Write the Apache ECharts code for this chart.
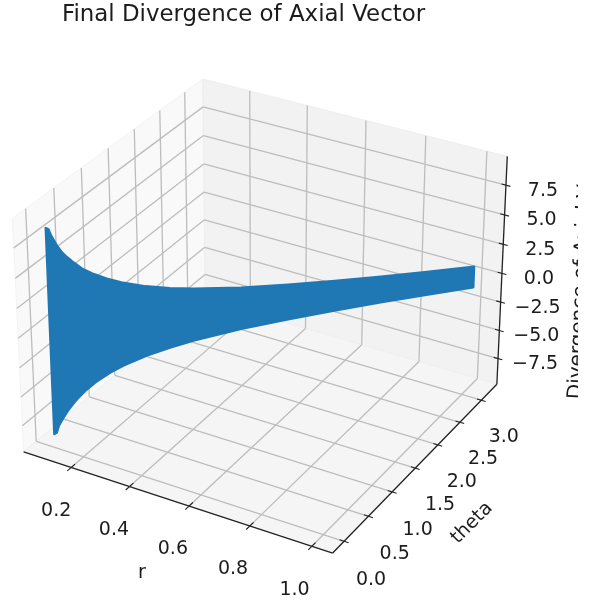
<!DOCTYPE html>
<html>
<head>
<meta charset="utf-8">
<style>html,body{margin:0;padding:0;background:#fff}#c{width:605px;height:601px;filter:blur(0.4px)}</style>
<script src="https://cdn.jsdelivr.net/npm/echarts@6/dist/echarts.min.js"></script>
</head>
<body>
<div id="c"></div>
<script>
// ---- data ----
const rValues     = [0.10,0.105,0.11,0.12,0.13,0.14,0.15,0.17,0.19,0.22,0.25,0.30,0.35,0.40,0.50,0.60,0.70,0.80,0.90,1.003];
const thetaValues = [0.00,0.017,0.035,0.07,0.105,0.14,0.175,0.244,0.314,0.419,0.524,0.698,0.873,1.047,1.396,1.745,2.094,2.443,2.793,3.155];
const zUpper      = [8.78,8.65,8.10,7.30,6.65,6.20,5.80,5.10,4.60,4.00,3.52,2.93,2.51,2.20,1.76,1.47,1.26,1.10,0.98,0.88];
const zLower      = [-8.62,-8.52,-7.95,-7.33,-6.77,-6.29,-5.87,-5.18,-4.63,-4.00,-3.52,-2.93,-2.51,-2.20,-1.76,-1.47,-1.26,-1.10,-0.98,-0.88];
const rTicks      = [0.2,0.4,0.6,0.8,1.0];
const thetaTicks  = [0.0,0.5,1.0,1.5,2.0,2.5,3.0];
const zTicks      = [-7.5,-5.0,-2.5,0.0,2.5,5.0,7.5];
const rLim = [0.034,1.066], thetaLim = [-0.23,3.37], zLim = [-9.8,9.9];
const titleText = 'Final Divergence of Axial Vector';
const rLabel = 'r', thetaLabel = 'theta', zLabel = 'Divergence of Axial Vector';

// ---- camera (elev 30, azim -60, dist 10) ----
const BOX = [1.19,1.19,0.893];
const U = [0.866025,0.5,0], V = [-0.25,0.433013,0.866025], W = [0.433013,-0.75,0.5];
const dot = (a,b)=>a[0]*b[0]+a[1]*b[1]+a[2]*b[2];
function projF(f){
  const d=[(f[0]-.5)*BOX[0],(f[1]-.5)*BOX[1],(f[2]-.5)*BOX[2]];
  const q=10-dot(W,d);
  return [dot(U,d)/q,dot(V,d)/q];
}
const frac=(v,l)=>(v-l[0])/(l[1]-l[0]);
const proj=(r,t,z)=>projF([frac(r,rLim),frac(t,thetaLim),frac(z,zLim)]);

// screen anchors of the box corners -> axis extents
const anchors=[[[0,0,0],23,452],[[1,0,0],333,552],[[1,1,0],497,385],[[1,1,1],507,156],[[0,1,1],202,79],[[0,0,1],13,217],[[0,1,0],206,301]];
function fit(i,px){
  let sx=0,sy=0,sxx=0,sxy=0,n=anchors.length;
  anchors.forEach(a=>{const x=projF(a[0])[i],y=a[px];sx+=x;sy+=y;sxx+=x*x;sxy+=x*y;});
  const b=(n*sxy-sx*sy)/(n*sxx-sx*sx);return [b,(sy-b*sx)/n];
}
const [bx,ax]=fit(0,1),[by,ay]=fit(1,2);
const W_PX=605,H_PX=601;

const FONT='"DejaVu Sans"';
const INK='#1c1c1c';
function line(api,a,b,color,w){
  const p=api.coord(a),q=api.coord(b);
  return {type:'line',shape:{x1:p[0],y1:p[1],x2:q[0],y2:q[1]},style:{stroke:color,lineWidth:w,fill:null}};
}
function poly(api,pts,fill,stroke,w){
  return {type:'polygon',shape:{points:pts.map(p=>api.coord(p))},style:{fill:fill,stroke:stroke||null,lineWidth:w||0,lineJoin:'round'}};
}
function txt(x,y,s,size,rot){
  return {type:'text',x:x,y:y,rotation:rot||0,style:{text:s,fill:INK,font:size+'px '+FONT,textAlign:'center',textVerticalAlign:'middle'}};
}
const R0=rLim[0],R1=rLim[1],T0=thetaLim[0],T1=thetaLim[1],Z0=zLim[0],Z1=zLim[1];

function renderPanes(p,api){
  return {type:'group',children:[
    poly(api,[proj(R0,T0,Z0),proj(R0,T1,Z0),proj(R0,T1,Z1),proj(R0,T0,Z1)],'#f9f9f9','#f3f3f3',1),
    poly(api,[proj(R0,T1,Z0),proj(R1,T1,Z0),proj(R1,T1,Z1),proj(R0,T1,Z1)],'#f2f2f2','#eeeeee',1),
    poly(api,[proj(R0,T0,Z0),proj(R1,T0,Z0),proj(R1,T1,Z0),proj(R0,T1,Z0)],'#f5f5f5','#f0f0f0',1)
  ]};
}
function renderGrid(p,api){
  const c=[],col='#bdbdbd',w=1.3;
  rTicks.forEach(r=>{
    c.push(line(api,proj(r,T0,Z0),proj(r,T1,Z0),col,w));
    c.push(line(api,proj(r,T1,Z0),proj(r,T1,Z1),col,w));
  });
  thetaTicks.forEach(t=>{
    c.push(line(api,proj(R0,t,Z0),proj(R1,t,Z0),col,w));
    c.push(line(api,proj(R0,t,Z0),proj(R0,t,Z1),col,w));
  });
  zTicks.forEach(z=>{
    c.push(line(api,proj(R0,T0,z),proj(R0,T1,z),col,w));
    c.push(line(api,proj(R0,T1,z),proj(R1,T1,z),col,w));
  });
  return {type:'group',children:c};
}
function renderAxes(p,api){
  const c=[],col='#222222',w=1.3,dr=(R1-R0)*0.014,dt=(T1-T0)*0.02;
  c.push(line(api,proj(R0,T0,Z0),proj(R1,T0,Z0),col,w));
  c.push(line(api,proj(R1,T0,Z0),proj(R1,T1,Z0),col,w));
  c.push(line(api,proj(R1,T1,Z0),proj(R1,T1,Z1),col,w));
  rTicks.forEach(r=>c.push(line(api,proj(r,T0+dt,Z0),proj(r,T0-dt,Z0),col,1.1)));
  thetaTicks.forEach(t=>c.push(line(api,proj(R1-dr,t,Z0),proj(R1+dr,t,Z0),col,1.1)));
  zTicks.forEach(z=>c.push(line(api,proj(R1-dr,T1,z),proj(R1+dr,T1,z),col,1.1)));
  return {type:'group',children:c};
}
function renderBand(p,api){
  const up=rValues.map((r,i)=>proj(r,thetaValues[i],zUpper[i]));
  const lo=rValues.map((r,i)=>proj(r,thetaValues[i],zLower[i])).reverse();
  return poly(api,up.concat(lo),'#1f77b4','#1f77b4',2.5);
}
function renderText(p,api){
  const c=[],FS=19;
  rTicks.forEach(r=>{const q=api.coord(proj(r,T0,Z0));c.push(txt(q[0]-15-(r-0.2)*3,q[1]+43.5,r.toFixed(1),FS));});
  thetaTicks.forEach(t=>{const q=api.coord(proj(R1,t,Z0));c.push(txt(q[0]+27-t*1.5,q[1]+38.5-t*0.7,t.toFixed(1),FS));});
  zTicks.forEach(z=>{const q=api.coord(proj(R1,T1,z));c.push(txt(q[0]+37,q[1]+5.5,(z<0?'\u2212':'')+Math.abs(z).toFixed(1),FS));});
  c.push(txt(142,573,rLabel,FS));
  c.push(txt(472,523,thetaLabel,FS,Math.PI/4));
  c.push(txt(582,267,zLabel,20,Math.PI/2-0.048));
  c.push({type:'rect',shape:{x:578,y:0,width:27,height:601},style:{fill:'#ffffff'}});
  c.push(txt(243.5,15,titleText,22.9));
  return {type:'group',children:c};
}
const custom=(fn,z)=>({type:'custom',coordinateSystem:'cartesian2d',data:[[0,0]],renderItem:fn,clip:false,silent:true,z:z,animation:false});
const chart=echarts.init(document.getElementById('c'),null,{renderer:'canvas'});
chart.setOption({
  animation:false,
  backgroundColor:'#ffffff',
  grid:{left:0,top:0,width:W_PX,height:H_PX},
  xAxis:{type:'value',show:false,min:(0-ax)/bx,max:(W_PX-ax)/bx,scale:true},
  yAxis:{type:'value',show:false,min:(H_PX-ay)/by,max:(0-ay)/by,scale:true},
  series:[custom(renderPanes,1),custom(renderGrid,2),custom(renderAxes,3),custom(renderBand,4),custom(renderText,5)]
});
</script>
</body>
</html>
